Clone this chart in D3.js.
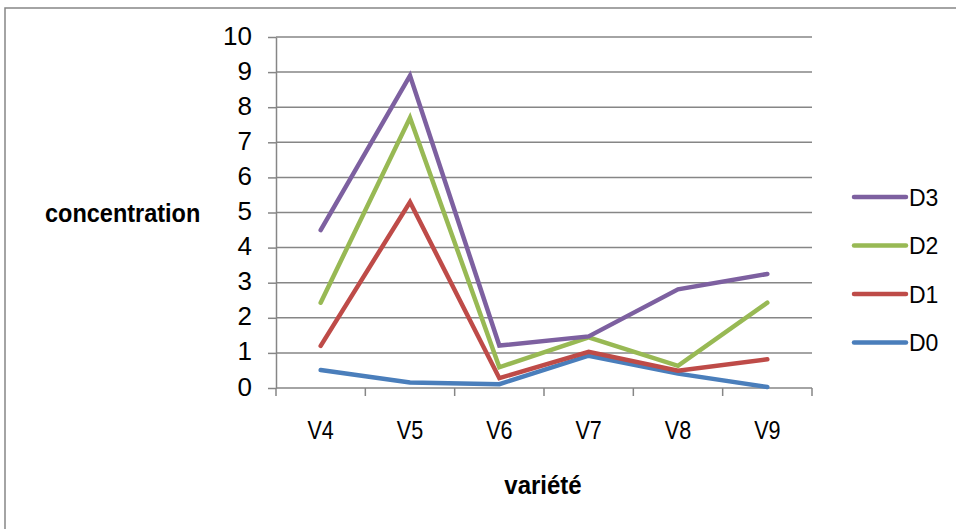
<!DOCTYPE html>
<html>
<head>
<meta charset="utf-8">
<script src="https://cdn.jsdelivr.net/npm/d3@7"></script>
<style>
  html, body { margin: 0; padding: 0; background: #fff; }
  svg { display: block; }
  text { font-family: "Liberation Sans", Arial, sans-serif; fill: #000; }
</style>
</head>
<body>
<svg id="chart" width="956" height="529"></svg>
<script>
// Varieties on the horizontal axis
const categories = ["V4", "V5", "V6", "V7", "V8", "V9"];
// Series names, bottom layer first (stacked line chart)
const seriesNames = ["D0", "D1", "D2", "D3"];
// Per-series concentrations (stacked on top of each other)
const D0 = [0.51, 0.16, 0.11, 0.92, 0.41, 0.03];
const D1 = [0.69, 5.14, 0.17, 0.11, 0.08, 0.79];
const D2 = [1.23, 2.40, 0.31, 0.41, 0.14, 1.61];
const D3 = [2.07, 1.20, 0.62, 0.03, 2.18, 0.82];
const yTicks = [0, 1, 2, 3, 4, 5, 6, 7, 8, 9, 10];
const colors = { D0: "#4A7EBB", D1: "#BE4B48", D2: "#98B954", D3: "#7D60A0" };

const rows = categories.map((c, i) => ({ cat: c, D0: D0[i], D1: D1[i], D2: D2[i], D3: D3[i] }));
const stacked = d3.stack().keys(seriesNames)(rows);

const svg = d3.select("#chart");
const gridColor = "#868686";

// Horizontally condensed text helper
function label(parent, x, y, txt, size, sx, opts = {}) {
  return parent.append("text")
    .attr("transform", `translate(${x},${y}) scale(${sx},1)`)
    .attr("text-anchor", opts.anchor || "start")
    .style("font-size", size + "px")
    .style("font-weight", opts.bold ? "bold" : null)
    .text(txt);
}

// Outer chart frame
svg.append("rect")
  .attr("x", 5).attr("y", 8).attr("width", 980).attr("height", 560)
  .attr("fill", "none").attr("stroke", gridColor).attr("stroke-width", 1.5);

const x = d3.scaleBand().domain(categories).range([276, 812]);
const y = d3.scaleLinear().domain([0, 10]).range([388, 37]);

// Horizontal gridlines
svg.append("g").selectAll("line").data(yTicks.filter(v => v > 0)).join("line")
  .attr("x1", 276).attr("x2", 812)
  .attr("y1", d => y(d)).attr("y2", d => y(d))
  .attr("stroke", gridColor).attr("stroke-width", 1.5);

// Y axis
const yAxis = svg.append("g").attr("transform", "translate(276,0)")
  .call(d3.axisLeft(y).tickValues(yTicks).tickSize(8).tickSizeOuter(0).tickFormat(d3.format("d")));
yAxis.select(".domain").attr("stroke", gridColor).attr("stroke-width", 1.5);
yAxis.selectAll(".tick line").attr("stroke", gridColor).attr("stroke-width", 1.5);
yAxis.selectAll(".tick text")
  .attr("x", -24).attr("dy", "0.27em")
  .style("font-size", "26px").style("font-family", null).attr("fill", "#000");

// X axis line with ticks at band boundaries
const xEdges = categories.map(c => x(c)).concat([x.range()[1]]);
const xg = svg.append("g");
xg.append("line").attr("x1", 276).attr("x2", 812).attr("y1", y(0)).attr("y2", y(0))
  .attr("stroke", gridColor).attr("stroke-width", 1.5);
xg.selectAll("line.tk").data(xEdges).join("line").attr("class", "tk")
  .attr("x1", d => d).attr("x2", d => d).attr("y1", y(0)).attr("y2", y(0) + 8)
  .attr("stroke", gridColor).attr("stroke-width", 1.5);
categories.forEach(c => label(xg, x(c) + x.bandwidth() / 2, 439, c, 26, 0.83, { anchor: "middle" }));

// Series lines
const line = d3.line().x((d, i) => x(categories[i]) + x.bandwidth() / 2).y(d => y(d[1]));
svg.append("g").selectAll("path").data(stacked).join("path")
  .attr("d", s => line(s))
  .attr("fill", "none")
  .attr("stroke", s => colors[s.key])
  .attr("stroke-width", 4.5)
  .attr("stroke-linecap", "round")
  .attr("stroke-linejoin", "miter");

// Axis titles
label(svg, 45, 222, "concentration", 25, 0.94, { bold: true });
label(svg, 543, 494, "variété", 25, 0.96, { bold: true, anchor: "middle" });

// Legend (top series first)
const legendKeys = seriesNames.slice().reverse();
const lg = svg.append("g").selectAll("g").data(legendKeys).join("g")
  .attr("transform", (d, i) => `translate(0,${197 + i * 48.5})`);
lg.append("line").attr("x1", 854).attr("x2", 906).attr("y1", 0).attr("y2", 0)
  .attr("stroke", d => colors[d]).attr("stroke-width", 4.5).attr("stroke-linecap", "round");
lg.append("text").attr("x", 909).attr("y", 8.5).style("font-size", "23px").text(d => d);
</script>
</body>
</html>
